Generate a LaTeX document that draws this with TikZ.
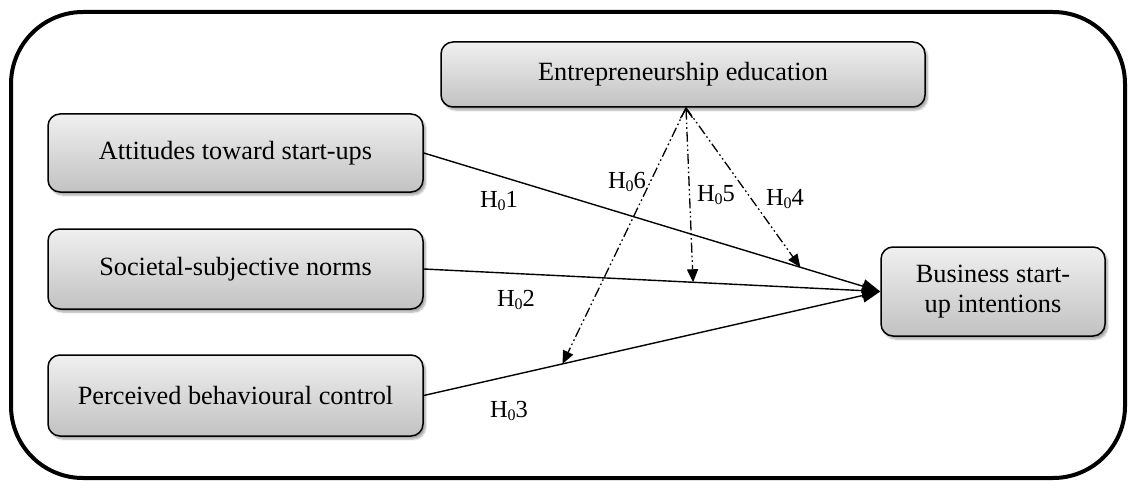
\documentclass[tikz,border=0pt]{standalone}
\usepackage{fontspec}
\setmainfont{Liberation Serif}
\usetikzlibrary{arrows.meta,shadows.blur}

\newcommand{\hyp}[1]{H\raisebox{-0.3ex}{\fontsize{16}{16}\selectfont 0}#1}

\tikzset{
  construct/.style={draw=black, line width=1.5pt, rounded corners=12pt,
    top color=gray!12, bottom color=gray!48, align=center,
    font=\fontsize{26.3}{30}\selectfont, inner sep=0pt,
    blur shadow={shadow xshift=2.5pt, shadow yshift=-3pt, shadow opacity=35, shadow blur steps=6}},
  effect/.style={line width=1.4pt, -{Triangle[length=18pt,width=14pt]}},
  moderation/.style={line width=1.3pt,
    dash pattern=on 10pt off 3pt on 1.6pt off 3pt on 1.6pt off 3pt,
    -{Triangle[length=13pt,width=11pt]}},
  hlabel/.style={font=\fontsize{24.5}{28}\selectfont, inner sep=0pt}
}

\begin{document}
\begin{tikzpicture}[x=1pt,y=-1pt]
\useasboundingbox (0,0) rectangle (1131,481);

% outer frame
\draw[line width=4pt, rounded corners=72pt] (11,12) rectangle (1125,478);

% constructs
\node[construct, minimum width=375pt, minimum height=78pt] (att) at (235.5,153) {Attitudes toward start-ups};
\node[construct, minimum width=375pt, minimum height=80pt] (soc) at (235.5,269) {Societal-subjective norms};
\node[construct, minimum width=375pt, minimum height=81pt] (pbc) at (235.5,395.5) {Perceived behavioural control};
\node[construct, minimum width=484pt, minimum height=65pt] (edu) at (683,74.5) {Entrepreneurship education};
\node[construct, minimum width=224pt, minimum height=89pt] (bsi) at (993,291.5) {Business start-\\up intentions};

% direct effects
\draw[effect] (att.east) -- (bsi.west) coordinate[pos=0.825] (m4);
\draw[effect] (soc.east) -- (bsi.west) coordinate[pos=0.59] (m5);
\draw[effect] (pbc.east) -- (bsi.west) coordinate[pos=0.304] (m6);

% moderating effects of education
\coordinate (src) at ([xshift=3pt]edu.south);
\draw[moderation] (src) -- (m4);
\draw[moderation, {Straight Barb[length=9pt,width=12pt,line width=1.3pt]}-{Triangle[length=13pt,width=11pt]}] (src) -- (m5);
\draw[moderation] (src) -- (m6);

% hypothesis labels
\node[hlabel] (h1) at (499,201) {\hyp{1}};
\node[hlabel] (h2) at (516,300) {\hyp{2}};
\node[hlabel] (h3) at (509,411) {\hyp{3}};
\node[hlabel] (h4) at (785,199) {\hyp{4}};
\node[hlabel] (h5) at (716,195) {\hyp{5}};
\node[hlabel] (h6) at (627,182) {\hyp{6}};
\end{tikzpicture}
\end{document}
